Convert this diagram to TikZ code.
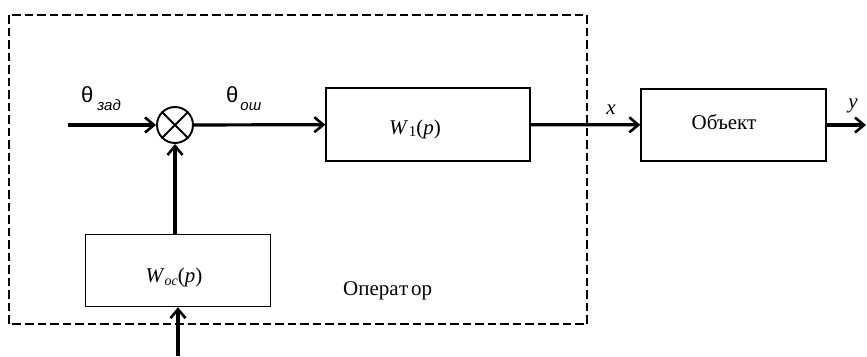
\documentclass[tikz,border=0pt]{standalone}
\usepackage{fontspec}
\setmainfont{Liberation Serif}
\newfontfamily\thetafont{Liberation Sans}
\usetikzlibrary{arrows.meta}
\begin{document}
\begin{tikzpicture}[x=1pt,y=-1pt,
  blockbox/.style={draw,line width=1.3pt,minimum width=#1,minimum height=72pt},
  sig/.style={line width=3.2pt,-{Straight Barb[length=9pt,width=15pt,line width=2.6pt]}},
  frame/.style={line width=2.6pt,dash pattern=on 8.5pt off 4pt},
  lbl/.style={font=\fontsize{21}{24}\selectfont,inner sep=0pt}]
\useasboundingbox (0,0) rectangle (867,356);
% operator boundary
\draw[frame] (9,15) rectangle (587,324);
% blocks
\node[blockbox=204pt,minimum height=73pt] (w1) at (428,124.5) {};
\node[lbl] (w1t) at (415,129) {\textit{W}\kern0.5pt\raisebox{-2.5pt}{\fontsize{15}{17}\selectfont 1}(\textit{p})};
\node[blockbox=185pt] (obj) at (733.5,125) {};
\node[lbl] (objt) at (724,122) {Объект};
\node[blockbox=185pt] (woc) at (178,270.5) {};
\node[lbl] (woct) at (174,277) {\textit{W}\raisebox{-3.5pt}{\fontsize{14}{16}\selectfont\textit{ос}}(\textit{p})};
\node[lbl,anchor=base west] (opt) at (343,295) {Опера\kern0.3pt т\kern3pt ор};
% summing junction
\node[draw,circle,line width=1.9pt,minimum size=36pt,inner sep=0pt] (sum) at (175,125) {};
\draw[line width=1.9pt] (sum.north west) -- (sum.south east) (sum.north east) -- (sum.south west);
% free ends
\coordinate (in) at (68,125);
\coordinate (out) at (866,125);
\coordinate (fb) at (178,356);
% connectors
\draw[sig] (in) -- (sum);
\draw[sig] (sum) -- (w1);
\draw[sig] (w1) -- (obj);
\draw[sig] (obj) -- (out);
\draw[sig] (fb) -- (woc);
\draw[sig] (woc.north -| sum) -- (sum);
% signal labels
\node[anchor=base west,inner sep=0pt] (tz) at (81,102) {\thetafont\fontsize{22}{24}\selectfont θ\kern4pt\raisebox{-8pt}{\fontsize{15}{17}\selectfont\textit{зад}}};
\node[anchor=base west,inner sep=0pt] (to) at (226,102) {\thetafont\fontsize{22}{24}\selectfont θ\kern2pt\raisebox{-8pt}{\fontsize{15}{17}\selectfont\textit{ош}}};
\node[lbl,anchor=base] (xl) at (611,114) {\textit{x}};
\node[lbl,anchor=base] (yl) at (853,108) {\textit{y}};
\end{tikzpicture}
\end{document}
